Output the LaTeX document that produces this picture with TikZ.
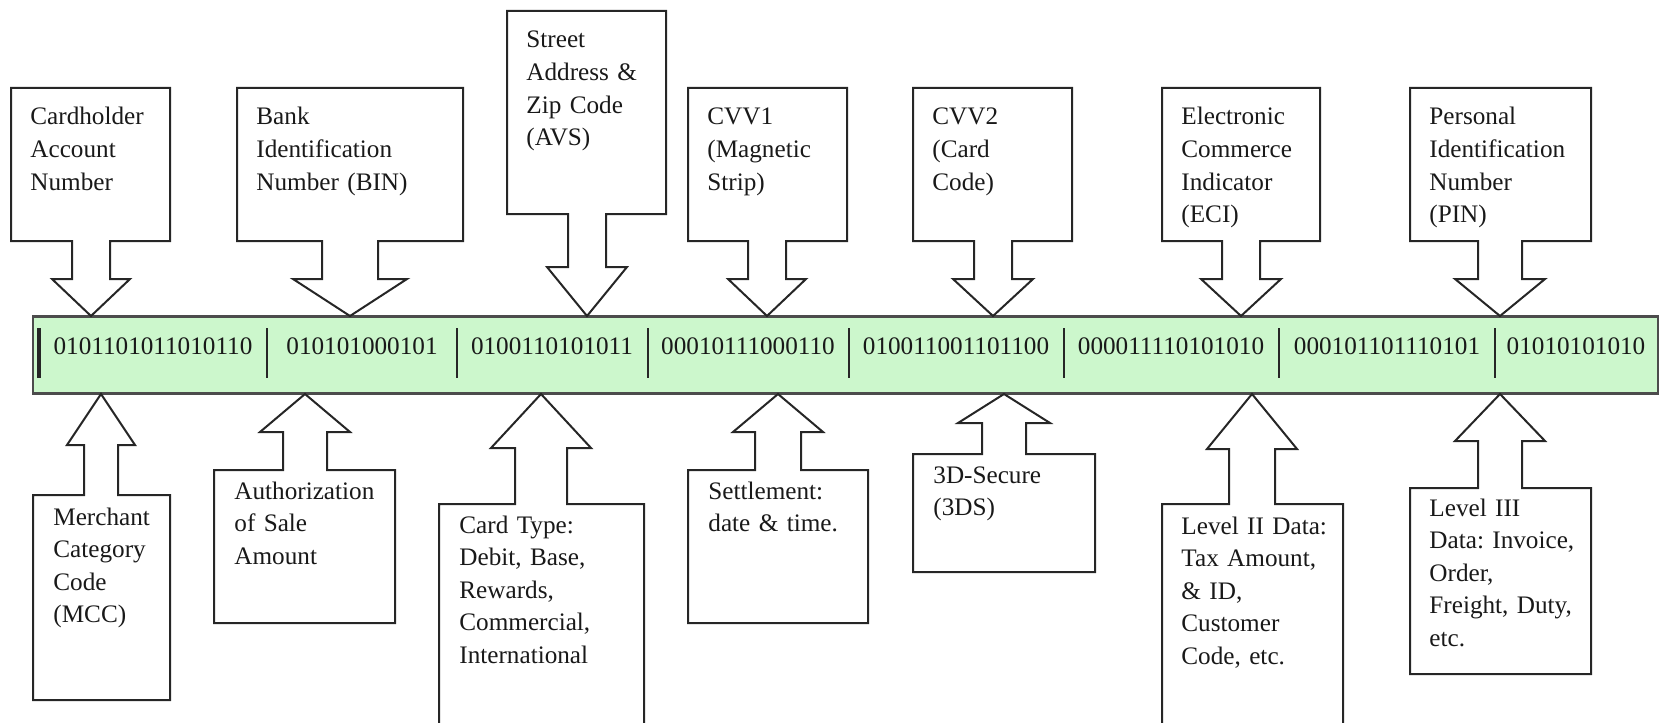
\documentclass[tikz,border=0pt]{standalone}
\usepackage{fontspec}
\setmainfont{Liberation Serif}
\usepackage{tikz}
\usetikzlibrary{positioning}

\definecolor{bargreen}{RGB}{204,247,204}
\newcommand{\lblfont}{\fontsize{12.6}{16.25}\selectfont\frenchspacing}

% box with block arrow: left, right, far edge, near edge, tip x, stem half, head half, shoulder y, tip y
\newcommand{\callshape}[9]{%
  \draw[callline] (#1,#3) -- (#2,#3) -- (#2,#4) -- (#5+#6,#4) -- (#5+#6,#8)
    -- (#5+#7,#8) -- (#5,#9) -- (#5-#7,#8) -- (#5-#6,#8) -- (#5-#6,#4)
    -- (#1,#4) -- cycle;}

\tikzset{
  callline/.style={line width=1pt, draw=black!85},
  lbl/.style={anchor=base west, inner sep=0pt, text width=110pt, align=left, font=\lblfont, text=black!90},
  bitstr/.style={anchor=base, inner sep=0pt, font=\lblfont, text=black!90},
  bar/.style={draw=black!70, line width=1.2pt, fill=bargreen, inner sep=0pt,
    minimum width=812.5pt, minimum height=38.5pt},
  sepline/.style={line width=0.9pt, draw=black!85}
}

\begin{document}
\begin{tikzpicture}[x=0.5pt, y=-0.5pt]
    \useasboundingbox (0,0) rectangle (1663,722);
    \clip (0,0) rectangle (1663,722);

    % the bit string
    \node[bar] (bits) at (845.5,355) {};
    \draw[sepline, line width=1.6pt] (39,328) -- (39,378);
    \foreach \x in {267,457,648,849,1064,1279,1495}
      \draw[sepline] (\x,328) -- (\x,378);

    \node[bitstr] (b1) at (153,354) {0101101011010110};
    \node[bitstr] (b2) at (362,354) {010101000101};
    \node[bitstr] (b3) at (552,354) {0100110101011};
    \node[bitstr] (b4) at (748,354) {00010111000110};
    \node[bitstr] (b5) at (956,354) {010011001101100};
    \node[bitstr] (b6) at (1171,354) {000011110101010};
    \node[bitstr] (b7) at (1387,354) {000101101110101};
    \node[bitstr] (b8) at (1576,354) {01010101010};

    % callouts above
    \callshape{11}{170}{88}{241}{91}{19}{39}{279}{316}
    \callshape{237}{463}{88}{241}{350}{28}{57}{279}{316}
    \callshape{507}{666}{11}{214}{587}{19}{40}{267}{316}
    \callshape{688}{847}{88}{241}{767}{19}{39}{279}{316}
    \callshape{913}{1072}{88}{241}{993}{19}{40}{279}{316}
    \callshape{1162}{1320}{88}{241}{1241}{19}{40}{279}{316}
    \callshape{1410}{1591}{88}{241}{1500}{22}{45}{279}{316}

    \node[lbl] (can) at (30,125) {Cardholder\\Account\\Number};
    \node[lbl] (bin) at (256,125) {Bank\\Identification\\Number (BIN)};
    \node[lbl] (avs) at (526,48) {Street\\Address \&\\Zip Code\\(AVS)};
    \node[lbl] (cvv1) at (707,125) {CVV1\\(Magnetic\\Strip)};
    \node[lbl] (cvv2) at (932,125) {CVV2\\(Card\\Code)};
    \node[lbl] (eci) at (1181,125) {Electronic\\Commerce\\Indicator\\(ECI)};
    \node[lbl] (pin) at (1429,125) {Personal\\Identification\\Number\\(PIN)};

    % callouts below
    \callshape{33}{170}{700}{495}{101}{17}{34}{445}{394}
    \callshape{214}{395}{623}{470}{305}{22}{45}{432}{394}
    \callshape{439}{644}{740}{504}{541}{26}{50}{448}{394}
    \callshape{688}{868}{623}{470}{778}{23}{45}{432}{394}
    \callshape{913}{1095}{572}{454}{1004}{22}{46}{423}{394}
    \callshape{1162}{1343}{740}{504}{1252}{23}{45}{449}{394}
    \callshape{1410}{1591}{674}{488}{1500}{22}{45}{441}{394}

    \node[lbl] (mcc) at (53,525) {Merchant\\Category\\Code\\(MCC)};
    \node[lbl] (auth) at (234,499) {Authorization\\of Sale\\Amount};
    \node[lbl] (ctype) at (459,533) {Card Type:\\Debit, Base,\\Rewards,\\Commercial,\\International};
    \node[lbl] (settle) at (708,499) {Settlement:\\date \& time.};
    \node[lbl] (tds) at (933,483) {3D-Secure\\(3DS)};
    \node[lbl] (lvtwo) at (1181,534) {Level II Data:\\Tax Amount,\\\& ID,\\Customer\\Code, etc.};
    \node[lbl] (lvthree) at (1429,516) {Level III\\Data: Invoice,\\Order,\\Freight, Duty,\\etc.};
\end{tikzpicture}
\end{document}
